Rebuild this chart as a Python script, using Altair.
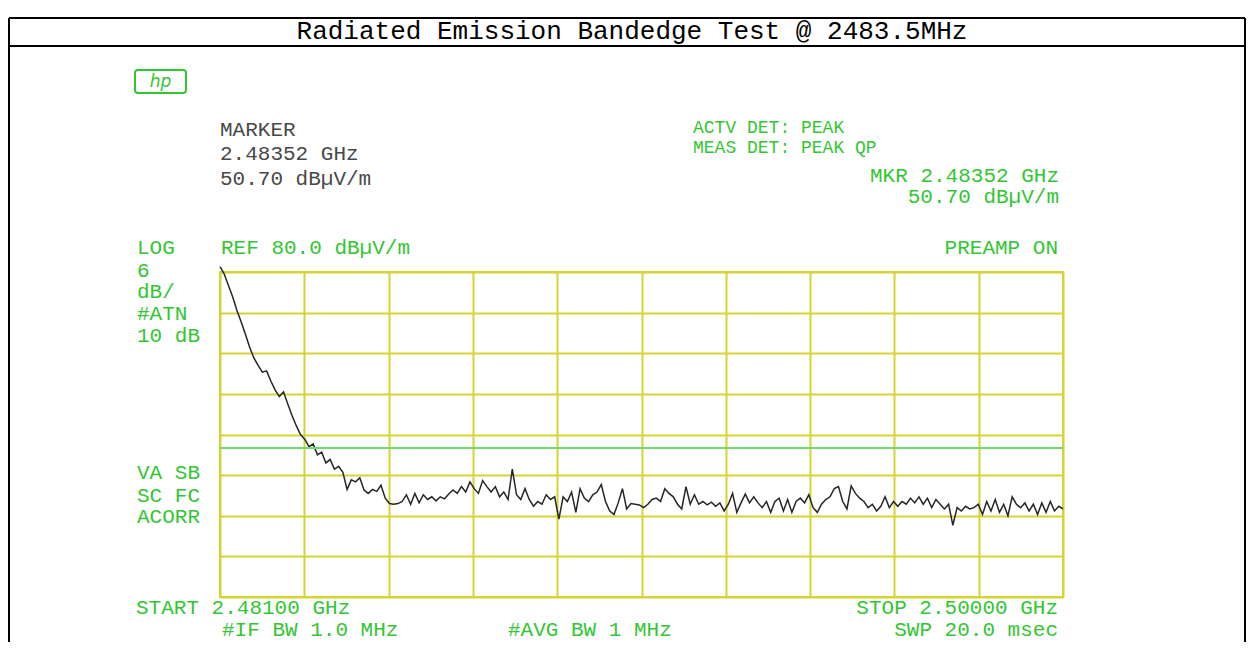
import altair as alt
import numpy as np
import pandas as pd

# ---------------- data ----------------
title_text = "Radiated Emission Bandedge Test @ 2483.5MHz"
start_ghz = 2.481
stop_ghz = 2.500
ref_level = 80.0
db_per_div = 6
limit_db = [54.0]

trace_db = [
    80.8, 79.7, 78.0, 76.3, 74.3, 72.6, 70.8, 68.9, 67.3, 66.2,
    65.2, 65.4, 63.9, 62.6, 61.6, 62.3, 60.5, 58.8, 57.3, 56.0,
    55.3, 54.2, 54.6, 53.0, 53.4, 51.8, 52.3, 50.9, 51.3, 50.4,
    47.9, 49.3, 49.0, 49.6, 47.8, 47.3, 47.9, 47.6, 48.5, 46.6,
    45.8, 45.7, 45.8, 46.1, 47.1, 45.7, 47.3, 45.9, 47.1, 46.4,
    46.8, 46.2, 46.8, 46.5, 47.2, 47.8, 47.3, 48.3, 47.5, 49.0,
    48.0, 47.3, 49.2, 48.3, 47.5, 48.3, 46.8, 47.5, 46.4, 50.9,
    47.1, 46.4, 48.0, 46.4, 45.4, 46.1, 45.7, 47.1, 46.4, 46.8,
    43.5, 46.8, 46.1, 47.5, 44.5, 48.0, 46.6, 46.1, 47.1, 47.5,
    48.6, 46.1, 44.7, 44.2, 45.9, 48.0, 45.0, 45.8, 45.7, 45.6,
    45.2, 45.7, 46.4, 46.6, 46.1, 48.0, 47.3, 46.8, 45.7, 45.0,
    48.3, 45.7, 47.1, 45.7, 46.1, 45.6, 46.0, 45.4, 45.9, 44.7,
    45.7, 47.3, 44.5, 45.9, 47.2, 45.9, 46.8, 45.9, 45.2, 46.1,
    44.5, 46.1, 46.6, 44.7, 46.4, 44.5, 46.1, 46.6, 45.9, 47.1,
    45.2, 44.5, 45.7, 46.4, 46.8, 48.0, 48.3, 46.1, 45.0, 48.4,
    47.3, 46.6, 46.1, 45.2, 45.7, 44.7, 45.4, 46.8, 45.2, 46.1,
    45.4, 46.1, 45.7, 46.6, 45.9, 46.8, 45.7, 46.6, 45.2, 46.4,
    45.7, 45.0, 45.7, 42.6, 45.2, 44.7, 45.4, 45.0, 45.2, 45.7,
    44.2, 46.1, 44.7, 46.4, 44.5, 45.7, 44.0, 46.8, 45.7, 45.2,
    45.9, 44.7, 45.7, 44.2, 45.9, 44.5, 46.1, 44.7, 45.4, 45.0,
]

x_grid = [2.481, 2.4829, 2.4848, 2.4867, 2.4886, 2.4905, 2.4924, 2.4943, 2.4962, 2.4981, 2.500]
y_grid = [32, 38, 44, 50, 56, 62, 68, 74, 80]

marker_lines = ["MARKER", "2.48352 GHz", "50.70 dBµV/m"]
det_lines = ["ACTV DET: PEAK", "MEAS DET: PEAK QP"]
mkr_lines = ["MKR 2.48352 GHz", "50.70 dBµV/m"]
ref_label = "REF 80.0 dBµV/m"
preamp_label = "PREAMP ON"
left_top_lines = ["LOG", "6", "dB/", "#ATN", "10 dB"]
left_bot_lines = ["VA SB", "SC FC", "ACORR"]
start_label = "START 2.48100 GHz"
stop_label = "STOP 2.50000 GHz"
ifbw_label = "#IF BW 1.0 MHz"
avgbw_label = "#AVG BW 1 MHz"
swp_label = "SWP 20.0 msec"
logo_label = "hp"

# ---------------- styles ----------------
GREEN = "#33c633"
GRAY = "#484848"
YELLOW = "#d4d432"
LIMIT = "#6fd86f"
FONT = "Liberation Mono"
FS = 21

W, H = 843, 325
freq = np.linspace(start_ghz, stop_ghz, len(trace_db))
df = pd.DataFrame({"freq": freq, "db": trace_db})

xs = alt.Scale(domain=[start_ghz, stop_ghz], nice=False, zero=False)
ys = alt.Scale(domain=[ref_level - 8 * db_per_div, ref_level], nice=False, zero=False)

grid_axis_x = alt.Axis(values=x_grid, grid=True, gridColor=YELLOW, gridWidth=2,
                       labels=False, ticks=False, domain=False, title=None)
grid_axis_y = alt.Axis(values=y_grid, grid=True, gridColor=YELLOW, gridWidth=2,
                       labels=False, ticks=False, domain=False, title=None)

trace = alt.Chart(df).mark_line(color="#262626", strokeWidth=1.5).encode(
    x=alt.X("freq:Q", scale=xs, axis=grid_axis_x),
    y=alt.Y("db:Q", scale=ys, axis=grid_axis_y),
)

limit = alt.Chart(pd.DataFrame({"lim": limit_db})).mark_rule(
    color=LIMIT, strokeWidth=2
).encode(y=alt.Y("lim:Q", scale=ys))

one = pd.DataFrame({"k": [0]})


def txt(s, x, y, color=GREEN, align="left", size=FS, font=FONT, style="normal"):
    return alt.Chart(pd.DataFrame({"label": [s]})).mark_text(
        align=align, baseline="middle", font=font, fontSize=size,
        color=color, fontStyle=style,
    ).encode(text="label:N", x=alt.value(x), y=alt.value(y))


def hrule(x1, x2, y, color="black", w=2):
    return alt.Chart(one).mark_rule(color=color, strokeWidth=w).encode(
        x=alt.value(x1), x2=alt.value(x2), y=alt.value(y))


def vrule(x, y1, y2, color="black", w=2):
    return alt.Chart(one).mark_rule(color=color, strokeWidth=w).encode(
        x=alt.value(x), y=alt.value(y1), y2=alt.value(y2))


layers = [trace, limit]

# frame of the surrounding table
layers += [
    hrule(-211, 1025, -254),
    hrule(-211, 1025, -226),
    vrule(-211, -254, 370),
    vrule(1025, -254, 370),
    txt(title_text, 412, -241, color="black", align="center", size=26, font="Liberation Mono"),
]

# logo
layers.append(
    alt.Chart(one).mark_rect(fill=None, stroke=GREEN, strokeWidth=2, cornerRadius=3).encode(
        x=alt.value(-85), x2=alt.value(-34), y=alt.value(-202), y2=alt.value(-179))
)
layers.append(txt(logo_label, -59.5, -190.5, align="center", size=17, font="DejaVu Sans", style="italic"))

# marker block (gray)
for s, yy in zip(marker_lines, [-142.5, -118.5, -93]):
    layers.append(txt(s, 0, yy, color=GRAY))

# detector block
for s, yy in zip(det_lines, [-144, -124]):
    layers.append(txt(s, 473, yy, size=18))
for s, yy in zip(mkr_lines, [-96, -75]):
    layers.append(txt(s, 839, yy, align="right"))

# reference line row
layers.append(txt(left_top_lines[0], -83, -24.5))
layers.append(txt(ref_label, 1, -24.5))
layers.append(txt(preamp_label, 838, -24.5, align="right"))
for s, yy in zip(left_top_lines[1:], [-1, 19.5, 42, 64]):
    layers.append(txt(s, -83, yy))
for s, yy in zip(left_bot_lines, [201, 223.5, 245]):
    layers.append(txt(s, -83, yy))

# bottom annotations
layers.append(txt(start_label, -84, 336))
layers.append(txt(ifbw_label, 2, 357.5))
layers.append(txt(avgbw_label, 288, 357.5))
layers.append(txt(stop_label, 838, 336, align="right"))
layers.append(txt(swp_label, 838, 357.5, align="right"))

chart = alt.layer(*layers).properties(
    width=W, height=H,
    padding={"left": 212, "top": 264, "right": 183, "bottom": 45},
    autosize=alt.AutoSizeParams(type="none"),
    background="white",
).configure_view(stroke=YELLOW, strokeWidth=2)

chart.save("out.html", embed_options={"renderer": "svg", "actions": False})
